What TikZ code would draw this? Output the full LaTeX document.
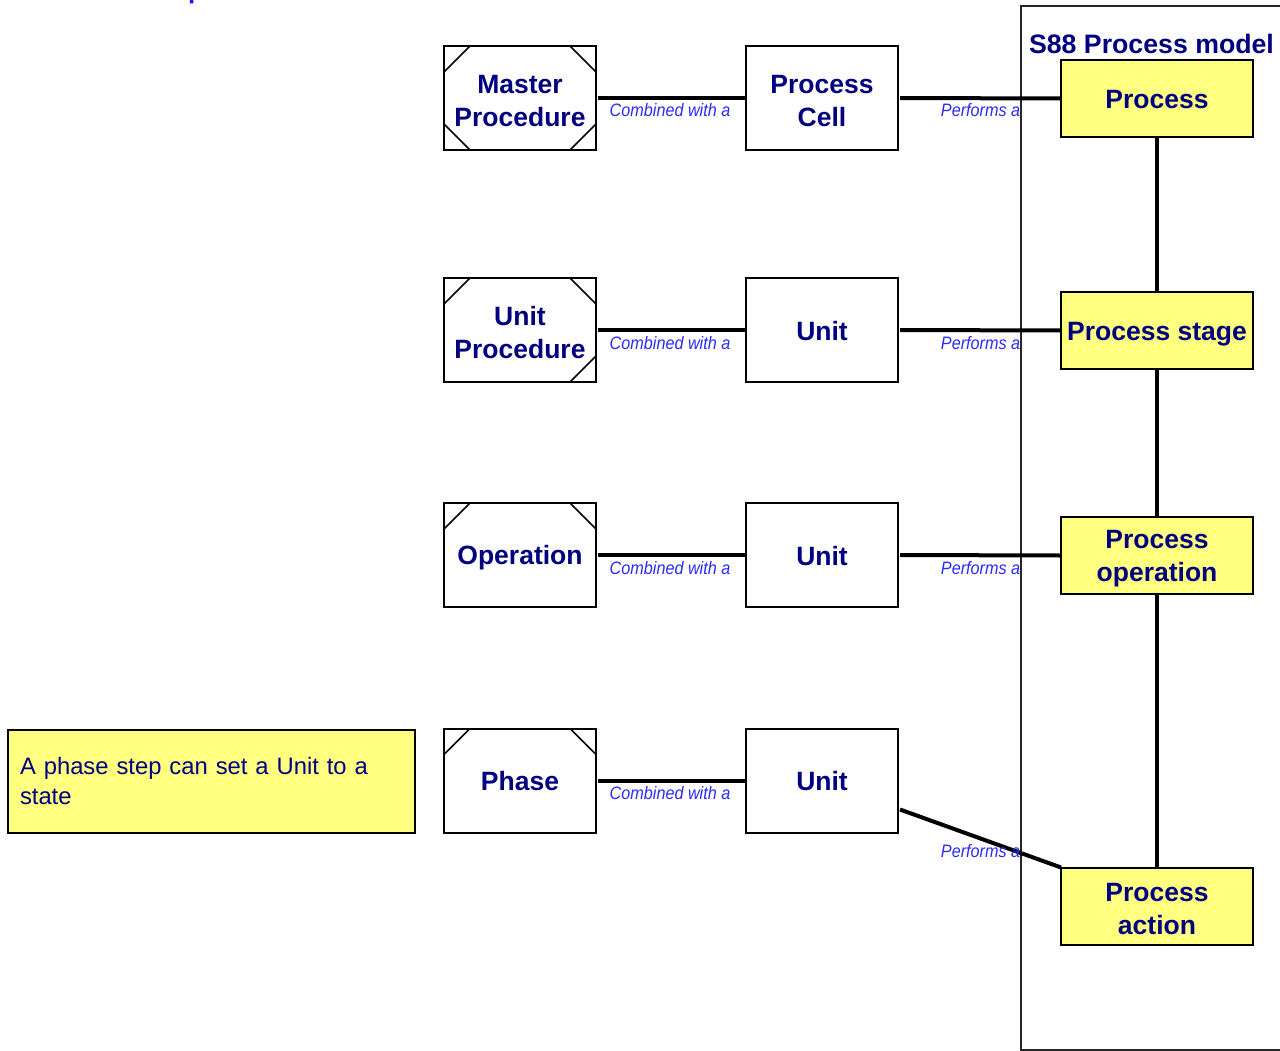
\documentclass[tikz,border=0pt]{standalone}
\usepackage{fontspec}
\setmainfont{Liberation Sans}
\definecolor{navytext}{HTML}{000080}
\definecolor{linkblue}{HTML}{2A2AFF}
\definecolor{titleblue}{HTML}{1A1AFF}
\definecolor{noteyellow}{HTML}{FFFF80}
\begin{document}
\begin{tikzpicture}[x=1pt,y=-1pt,
  boxtext/.style={align=center, inner sep=0pt, text=navytext,
    font=\fontsize{26.5}{33}\selectfont\bfseries},
  stepframe/.style={draw=black, line width=2pt, fill=white, outer sep=0pt,
    minimum width=152pt, minimum height=104pt},
  modelframe/.style={draw=black, line width=2pt, fill=noteyellow, outer sep=0pt,
    minimum width=192pt, minimum height=77pt},
  % captions with descenders sit a little lower than those without
  stepbox/.style={stepframe, label={[boxtext, yshift=-3pt]center:{#1}}},
  stepboxone/.style={stepframe, label={[boxtext, yshift=-1pt]center:{#1}}},
  modelbox/.style={modelframe, label={[boxtext, yshift=-3.5pt]center:{#1}}},
  modelboxone/.style={modelframe, label={[boxtext, yshift=-1pt]center:{#1}}},
  conn/.style={line width=4pt, draw=black},
  corner/.style={line width=1.6pt, draw=black},
  lab/.style={text=linkblue, inner sep=0pt, anchor=base west, xscale=0.9,
    font=\fontsize{18}{20}\selectfont\itshape}
]
\useasboundingbox (0,0) rectangle (1280,1051);

% heading, cut off at the top edge
\begin{scope}
  \clip (0,0) rectangle (1280,1051);
  \node[anchor=base west, inner sep=0pt, text=titleblue,
        font=\fontsize{26}{30}\selectfont\bfseries] (head) at (188,-1.5) {p};
\end{scope}

% S88 process model frame
\draw[line width=2pt, draw=black!85] (1021,6) rectangle (1300,1050);
\node[text=navytext, font=\fontsize{26.7}{30}\selectfont\bfseries, inner sep=0pt]
  (mtitle) at (1151.5,44) {S88 Process model};

% procedural elements
\node[stepbox={Master\\Procedure}] (mp) at (520,98)    {};
\node[stepbox={Unit\\Procedure}]   (up) at (520,330)   {};
\node[stepbox={Operation}]         (op) at (520,555)   {};
\node[stepboxone={Phase}]          (ph) at (520,780.5) {};

% corner cuts of the procedural elements
\draw[corner] ([yshift=-26pt]mp.north west) -- ([xshift=26pt]mp.north west);
\draw[corner] ([yshift=-26pt]mp.north east) -- ([xshift=-26pt]mp.north east);
\draw[corner] ([yshift=26pt]mp.south west) -- ([xshift=26pt]mp.south west);
\draw[corner] ([yshift=26pt]mp.south east) -- ([xshift=-26pt]mp.south east);
\draw[corner] ([yshift=-26pt]up.north west) -- ([xshift=26pt]up.north west);
\draw[corner] ([yshift=-26pt]up.north east) -- ([xshift=-26pt]up.north east);
\draw[corner] ([yshift=26pt]up.south east) -- ([xshift=-26pt]up.south east);
\draw[corner] ([yshift=-26pt]op.north west) -- ([xshift=26pt]op.north west);
\draw[corner] ([yshift=-26pt]op.north east) -- ([xshift=-26pt]op.north east);
\draw[corner] ([yshift=-26pt]ph.north west) -- ([xshift=26pt]ph.north west);
\draw[corner] ([yshift=-26pt]ph.north east) -- ([xshift=-26pt]ph.north east);

% equipment elements
\node[stepbox={Process\\Cell}] (pc) at (822,98)    {};
\node[stepboxone={Unit}]       (u1) at (822,330)   {};
\node[stepboxone={Unit}]       (u2) at (822,555)   {};
\node[stepboxone={Unit}]       (u3) at (822,780.5) {};

% process model elements
\node[modelboxone={Process}]          (pr) at (1157,98.5)  {};
\node[modelbox={Process stage}]       (ps) at (1157,330.5) {};
\node[modelbox={Process\\operation}]  (po) at (1157,555.5) {};
\node[modelbox={Process\\action}]     (pa) at (1157,906)   {};

% note
\node[draw=black, line width=2pt, fill=noteyellow, outer sep=0pt,
      minimum width=407pt, minimum height=103pt, text width=383pt,
      align=left, inner sep=12pt, text=navytext,
      font=\fontsize{23.8}{30}\selectfont] (note) at (211.5,781)
  {A phase step can set a Unit to a\\state};

% procedure -- equipment links
\draw[conn] ([xshift=2pt]mp.east) -- ([xshift=-1pt]pc.west)
  node[lab, pos=0, xshift=11pt, yshift=-19pt] (l1) {Combined with a};
\draw[conn] ([xshift=2pt]up.east) -- ([xshift=-1pt]u1.west)
  node[lab, pos=0, xshift=11pt, yshift=-19pt] (l2) {Combined with a};
\draw[conn] ([xshift=2pt]op.east) -- ([xshift=-1pt]u2.west)
  node[lab, pos=0, xshift=11pt, yshift=-19pt] (l3) {Combined with a};
\draw[conn] ([xshift=2pt]ph.east) -- ([xshift=-1pt]u3.west)
  node[lab, pos=0, xshift=11pt, yshift=-19pt] (l4) {Combined with a};

% equipment -- process model links
\draw[conn] ([xshift=2pt]pc.east) -- ([xshift=-1pt]pr.west)
  node[lab, pos=0, xshift=43.5pt, yshift=-19pt] (l5) {Performs a};
\draw[conn] ([xshift=2pt]u1.east) -- ([xshift=-1pt]ps.west)
  node[lab, pos=0, xshift=43.5pt, yshift=-19pt] (l6) {Performs a};
\draw[conn] ([xshift=2pt]u2.east) -- ([xshift=-1pt]po.west)
  node[lab, pos=0, xshift=43.5pt, yshift=-19pt] (l7) {Performs a};
\draw[conn] ([xshift=2pt,yshift=-29pt]u3.east) -- (pa.north west)
  node[lab, pos=0, xshift=43.5pt, yshift=-48pt] (l8) {Performs a};

% process model hierarchy
\draw[conn] (pr.south) -- (ps.north);
\draw[conn] (ps.south) -- (po.north);
\draw[conn] (po.south) -- (pa.north);
\end{tikzpicture}
\end{document}
